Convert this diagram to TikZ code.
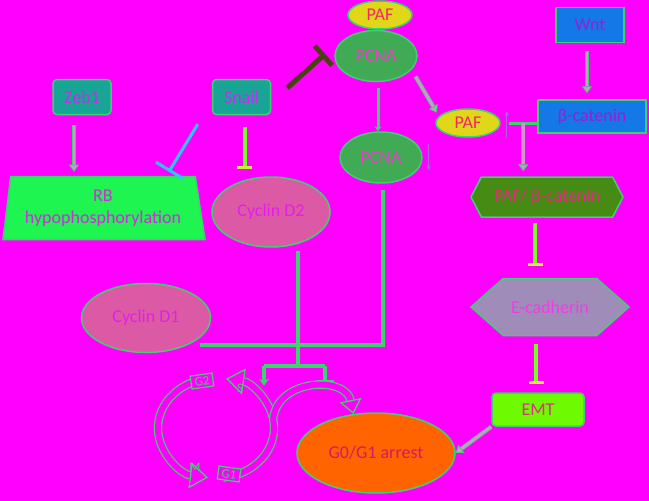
\documentclass[tikz,border=0pt]{standalone}
\usepackage{fontspec}
\setmainfont{Carlito}
\usetikzlibrary{shapes.geometric,shapes.symbols,arrows.meta,positioning,calc}

\definecolor{bg}{RGB}{255,0,255}
\definecolor{edge}{RGB}{60,210,110}
\definecolor{regfill}{RGB}{25,165,150}
\definecolor{regtext}{RGB}{195,45,235}
\definecolor{pcnafill}{RGB}{65,170,85}
\definecolor{pcnatext}{RGB}{235,60,200}
\definecolor{paffill}{RGB}{225,215,25}
\definecolor{paftext}{RGB}{240,40,100}
\definecolor{wntfill}{RGB}{20,120,230}
\definecolor{wnttext}{RGB}{150,30,215}
\definecolor{rbfill}{RGB}{30,245,80}
\definecolor{rbtext}{RGB}{210,40,225}
\definecolor{cycfill}{RGB}{220,90,165}
\definecolor{cyctext}{RGB}{225,30,235}
\definecolor{hexfill}{RGB}{70,140,20}
\definecolor{hextext}{RGB}{230,40,130}
\definecolor{ecadfill}{RGB}{160,140,185}
\definecolor{ecadtext}{RGB}{240,60,230}
\definecolor{emtfill}{RGB}{110,250,0}
\definecolor{emttext}{RGB}{220,50,130}
\definecolor{arrestfill}{RGB}{255,100,0}
\definecolor{arresttext}{RGB}{215,25,100}
\definecolor{darkbar}{RGB}{75,65,20}
\definecolor{cyanbar}{RGB}{40,200,240}
\definecolor{limeline}{RGB}{120,255,30}
\definecolor{barcol}{RGB}{200,240,60}
\definecolor{thinarrow}{RGB}{170,100,220}
\definecolor{dblfill}{RGB}{205,150,205}

\begin{document}
\begin{tikzpicture}[
    x=1pt, y=-1pt,
    box/.style={draw=edge, line width=1.5pt, inner sep=0pt, align=center, font=\fontsize{18}{22}\selectfont},
    regbox/.style={box, rectangle, rounded corners=4pt, fill=regfill, text=regtext, minimum width=58pt, minimum height=35pt},
    pcnabox/.style={box, ellipse, fill=pcnafill, text=pcnatext, minimum width=82pt, minimum height=51pt},
    pafbox/.style={box, ellipse, fill=paffill, text=paftext, minimum width=64pt, minimum height=28pt},
    sigbox/.style={box, rectangle, fill=wntfill, text=wnttext},
    rbbox/.style={box, trapezium, trapezium stretches body=true, trapezium left angle=78, trapezium right angle=75, fill=rbfill, text=rbtext, minimum width=202pt, minimum height=63pt},
    cycbox/.style={box, ellipse, fill=cycfill, text=cyctext},
    hexbox/.style={box, signal, signal to=west and east},
    emtbox/.style={box, rectangle, rounded corners=4pt, fill=emtfill, text=emttext, minimum width=92pt, minimum height=33pt},
    arrestbox/.style={box, ellipse, fill=arrestfill, text=arresttext, minimum width=158pt, minimum height=80pt},
    dblarrow/.style={draw=edge, line width=0.8pt, double=dblfill, double distance=2.6pt, -{Triangle[length=7pt, width=10pt, fill=dblfill, line width=0.8pt]}},
    link/.style={draw=edge, line width=4pt},
    inhib/.style={draw=limeline, line width=4pt, -{Bar[width=15pt, line width=3pt, color=barcol]}},
    ring/.style={draw=edge, line width=1.2pt, double=bg, double distance=6pt},
    ringtip/.style={-{Triangle[length=18pt, width=26pt, fill=bg, line width=1.2pt]}},
    phase/.style={font=\fontsize{13}{13}\selectfont, text=edge, inner sep=1pt},
    tinyarrow/.style={draw=thinarrow, line width=0.9pt, -{Stealth[length=5pt, width=4pt]}}
]
\fill[bg] (0,0) rectangle (649,501);
\useasboundingbox (0,0) rectangle (649,501);

\node[pcnabox] (pcnatop) at (376,56) {PCNA};
\node[pafbox, above=0pt of pcnatop, xshift=4pt] (paftop) {PAF};
\node[pcnabox, below=49pt of pcnatop, xshift=5pt] (pcnamid) {PCNA};
\node[pafbox] (pafmid) at (468,123) {PAF};
\node[sigbox, minimum width=68pt, minimum height=35pt] (wnt) at (590,25) {Wnt};
\node[sigbox, minimum width=108pt, minimum height=33pt, below=56pt of wnt, xshift=2pt] (bcat) {β-catenin};
\node[hexbox, minimum width=152pt, minimum height=40pt, signal pointer angle=125, fill=hexfill, text=hextext] (pafbcat) at (547,197) {PAF/ β-catenin};
\node[hexbox, minimum width=158pt, minimum height=57pt, signal pointer angle=83, fill=ecadfill, text=ecadtext, below=60pt of pafbcat, xshift=3pt] (ecad) {E-cadherin};
\node[emtbox, below=56pt of ecad, xshift=-12pt] (emt) {EMT};
\node[arrestbox] (arrest) at (376,453) {G0/G1 arrest};
\node[regbox] (zeb) at (82,97) {Zeb1};
\node[regbox, right=100pt of zeb] (snail) {Snail};
\node[rbbox] (rb) at (103,208) {RB\\hypophosphorylation};
\node[cycbox, minimum width=118pt, minimum height=70pt] (cycd2) at (271,212) {Cyclin D2};
\node[cycbox, minimum width=129pt, minimum height=69pt] (cycd1) at (146,318) {Cyclin D1};

\draw[dblarrow, shorten <=10pt, shorten >=4pt] ([xshift=-8pt]zeb.south) -- ([xshift=-8pt]zeb.south |- rb.north);
\draw[inhib, shorten <=12pt, shorten >=7pt] ([xshift=3pt]snail.south) -- ([xshift=3pt]snail.south |- cycd2.north);
\draw[draw=cyanbar, line width=3pt, -{Bar[width=32pt, line width=3pt]}] ($(snail.south west)+(-14,9)$) -- ($(rb.top right corner)+(-27,-4)$);
\draw[draw=darkbar, line width=5pt, -{Bar[width=26pt, line width=5pt]}] ($(snail.east)+(16,-9)$) -- ($(pcnatop.west)+(-9,-2)$);
\draw[draw=edge, line width=3pt, shorten <=6pt, -{Stealth[length=5pt, width=7pt]}] ([xshift=2pt]pcnatop.south) -- ([xshift=-3pt]pcnamid.north);
\draw[dblarrow] ($(pcnatop.south east)+(10,2)$) -- ($(pafmid.north west)+(-8,0)$);
\draw[dblarrow, shorten <=8pt, shorten >=6pt] ([xshift=-3pt]wnt.south) -- ([xshift=-3pt]wnt.south |- bcat.north);
\draw[draw=edge, line width=3pt] (bcat.west |- pafmid) -- coordinate (jn) +(-28,0);
\draw[dblarrow, shorten >=5pt] (jn) -- (jn |- pafbcat.north);
\draw[inhib, shorten <=5pt, shorten >=12pt] ([xshift=-12pt]pafbcat.south) -- ([xshift=-12pt]pafbcat.south |- ecad.north);
\draw[inhib, shorten <=8pt, shorten >=8pt] ([xshift=-14pt]ecad.south) -- ([xshift=-14pt]ecad.south |- emt.north);
\draw[dblarrow] (emt.south west) -- (arrest.east);
\draw[tinyarrow] ($(pcnamid.east)+(6,-14)$) -- +(0,27);
\draw[tinyarrow] ($(pafmid.east)+(6,15)$) -- +(0,-27);

\draw[link] ($(pcnamid.south)+(2,6)$) |- ($(cycd1.south east)+(8,2)$);
\coordinate (tj) at ($(cycd2.south)+(27,118)$);
\draw[link] ($(cycd2.south)+(27,3)$) -- (tj);
\draw[link] (tj) -- +(-34,0) coordinate (tl);
\draw[link] (tj) -- +(27,0) coordinate (tr);
\draw[link, -{Stealth[length=7pt, width=10pt]}] (tl) -- +(0,20);
\draw[link, -{Bar[width=17pt, line width=3pt]}] (tr) -- +(0,17);

\coordinate (cc) at (216,428);
\draw[ring, ringtip] ($(cc)+(7.1,49.6)$) arc[start angle=83, end angle=-80, x radius=58, y radius=50];
\draw[ring, ringtip] ($(cc)+(-7.1,-49.6)$) arc[start angle=-97, end angle=-262, x radius=58, y radius=50];
\draw[ring, -{Triangle[length=14pt, width=22pt, fill=bg, line width=1.2pt]}] ($(cc)+(57,-9)$) .. controls ($(cc)+(62,-50)$) and ($(arrest.120)+(-8,-38)$) .. (arrest.120);
\node[phase, draw=edge, line width=1.2pt, fill=bg, minimum width=22pt, minimum height=13pt, rotate=8] (g2) at ($(cc)+(-14,-47)$) {G2};
\node[phase, draw=edge, line width=1.2pt, fill=bg, minimum width=22pt, minimum height=13pt, rotate=-8] (g1) at ($(cc)+(13,46)$) {G1};
\node[phase] (sph) at ($(cc)+(24,-40)$) {S};
\node[phase] (mph) at ($(cc)+(-21,39)$) {M};

\end{tikzpicture}
\end{document}
